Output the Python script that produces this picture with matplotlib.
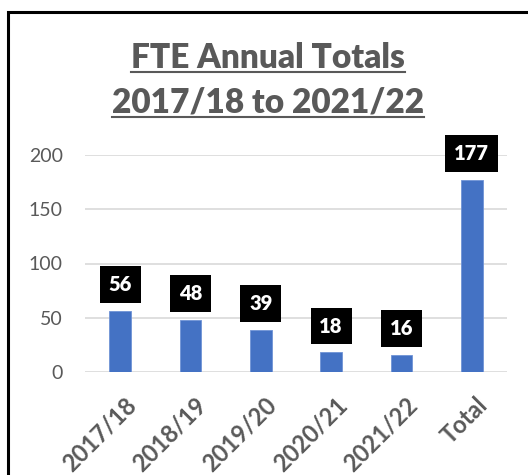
import matplotlib.pyplot as plt
from matplotlib.lines import Line2D
from matplotlib.patches import Rectangle
from matplotlib.transforms import ScaledTranslation

categories = ["2017/18", "2018/19", "2019/20", "2020/21", "2021/22", "Total"]
fte = [56, 48, 39, 18, 16, 177]
yticks = [0, 50, 100, 150, 200]
title_lines = ["FTE Annual Totals", "2017/18 to 2021/22"]

grey = "#595959"
plt.rcParams['font.family'] = ['Lato', 'DejaVu Sans']

fig = plt.figure(figsize=(5.28, 4.75), dpi=100)
ax = fig.add_axes([85 / 528, 1 - 372 / 475, 422 / 528, 217 / 475])

x = range(len(categories))
ax.bar(x, fte, width=0.31, color="#4472C4", edgecolor="#6f93d6", linewidth=0.6, zorder=3)

for xi, v in zip(x, fte):
    ax.annotate(str(v), (xi, v), xytext=(0, 19), textcoords="offset points",
                ha="center", va="center", color="white", fontsize=14.5, fontweight="heavy",
                bbox=dict(boxstyle="square,pad=0.44", fc="black", ec="none"), zorder=4)

ax.set_xlim(-0.5, len(categories) - 0.5)
ax.set_ylim(0, 200)
ax.set_yticks(yticks)
ax.grid(axis="y", color="#d9d9d9", linewidth=1.2, zorder=0)
ax.set_axisbelow(True)
for s in ax.spines.values():
    s.set_visible(False)
ax.tick_params(axis="y", length=0, pad=16, labelsize=14, labelcolor=grey)
ax.tick_params(axis="x", length=0, pad=15, labelsize=17, labelcolor=grey)
ax.set_xticks(list(x))
ax.set_xticklabels(categories, rotation=45, ha="right", rotation_mode="anchor", fontweight="bold")
shift = ScaledTranslation(4 / 100, 0, fig.dpi_scale_trans)
for lbl in ax.get_xticklabels():
    lbl.set_transform(lbl.get_transform() + shift)

# title, two underlined lines
t1 = fig.text(0.508, 1 - 68 / 475, title_lines[0], ha="center", va="baseline",
              fontsize=24, fontweight="heavy", color=grey)
t2 = fig.text(0.508, 1 - 113 / 475, title_lines[1], ha="center", va="baseline",
              fontsize=24, fontweight="heavy", color=grey)

# chart frame (only left and top edges visible in the crop)
fig.add_artist(Rectangle((8 / 528, -0.1), 1.2, 1 - 12 / 475 + 0.1, transform=fig.transFigure,
                         fill=False, ec="black", lw=2.2))

fig.canvas.draw()
r = fig.canvas.get_renderer()
for t in (t1, t2):
    bb = t.get_window_extent(r).transformed(fig.transFigure.inverted())
    yb = t.get_position()[1] - 4 / 475
    fig.add_artist(Line2D([bb.x0, bb.x1], [yb, yb], transform=fig.transFigure, color=grey, lw=1.5))

fig.savefig("out.png", dpi=100)
